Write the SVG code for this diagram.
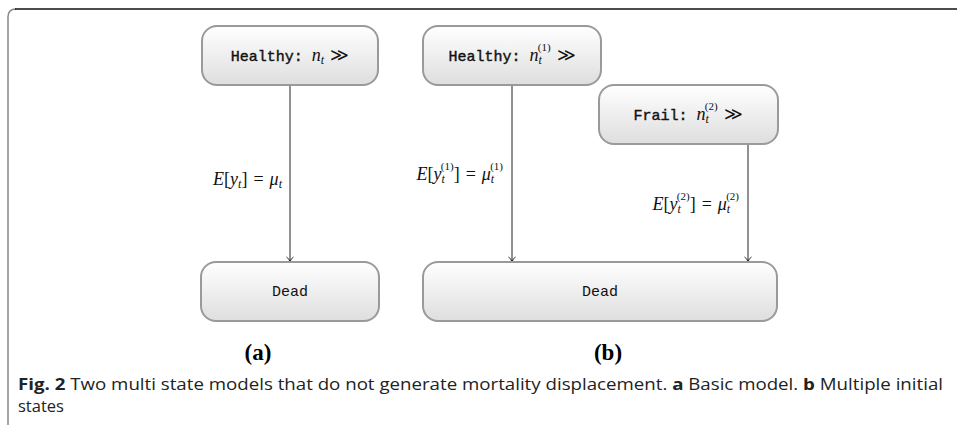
<svg xmlns="http://www.w3.org/2000/svg" width="957" height="425" viewBox="0 0 957 425">
<defs>
<linearGradient id="g" x1="0" y1="0" x2="0" y2="1">
<stop offset="0" stop-color="#ffffff"/>
<stop offset="1" stop-color="#dedede"/>
</linearGradient>
<marker id="arr" markerWidth="10" markerHeight="10" refX="8" refY="5" orient="auto" markerUnits="userSpaceOnUse">
<path d="M3,1.5 Q5,4.5 8,5 Q5,5.5 3,8.5" fill="none" stroke="#222" stroke-width="1"/>
</marker>
</defs>
<style>
.node{fill:url(#g);stroke:#9a9a9a;stroke-width:2}
.mono{font-family:"Liberation Mono","DejaVu Sans Mono",monospace;font-size:15px;fill:#111}
.monob{font-family:"Liberation Mono","DejaVu Sans Mono",monospace;font-size:15px;fill:#111;stroke:#111;stroke-width:0.4}
.math{font-family:"Liberation Serif","DejaVu Serif",serif;font-size:18px;fill:#111}
.it{font-style:italic}
.conn{stroke:#222;stroke-width:1;fill:none;marker-end:url(#arr)}
.sub{font-size:12px}
.sup{font-size:11px}
.panel{font-family:"Liberation Serif",serif;font-weight:bold;font-size:23px;fill:#000}
.cap{font-family:"Open Sans","Noto Sans",sans-serif;font-size:16.5px;fill:#222}
</style>
<path d="M8,425 L8,17 Q8,9 16,9" fill="none" stroke="#888" stroke-width="1.5"/>
<path d="M15,9 L957,9" fill="none" stroke="#111" stroke-width="1.3"/>

<g id="connectors">
<path class="conn" d="M290,85 L290,262"/>
<path class="conn" d="M512,85 L512,262"/>
<path class="conn" d="M748,144 L748,262"/>
<text class="math" x="282" y="185" text-anchor="end"><tspan class="it">E</tspan>[<tspan class="it">y</tspan><tspan class="it sub" dy="3">t</tspan><tspan dy="-3">]</tspan><tspan dx="6">=</tspan><tspan class="it" dx="6">μ</tspan><tspan class="it sub" dy="3">t</tspan></text>
<text class="math" x="503" y="180" text-anchor="end"><tspan class="it">E</tspan>[<tspan class="it">y</tspan><tspan class="it sub" dy="3">t</tspan><tspan class="sup" dx="-4" dy="-13.5">(1)</tspan><tspan dy="10.5">]</tspan><tspan dx="6">=</tspan><tspan class="it" dx="6">μ</tspan><tspan class="it sub" dy="3">t</tspan><tspan class="sup" dx="-4" dy="-13.5">(1)</tspan></text>
<text class="math" x="739" y="210" text-anchor="end"><tspan class="it">E</tspan>[<tspan class="it">y</tspan><tspan class="it sub" dy="3">t</tspan><tspan class="sup" dx="-4" dy="-13.5">(2)</tspan><tspan dy="10.5">]</tspan><tspan dx="6">=</tspan><tspan class="it" dx="6">μ</tspan><tspan class="it sub" dy="3">t</tspan><tspan class="sup" dx="-4" dy="-13.5">(2)</tspan></text>
</g>

<g id="healthy-a">
<rect class="node" x="202" y="26" width="176" height="59" rx="15"/>
<text x="290" y="61" text-anchor="middle"><tspan class="monob">Healthy:</tspan><tspan class="math it" dx="9">n</tspan><tspan class="math it sub" dy="3">t</tspan><tspan class="math" dx="6" dy="-3">≫</tspan></text>
</g>

<g id="dead-a">
<rect class="node" x="201" y="262" width="178" height="59" rx="15"/>
<text class="mono" x="290" y="296" text-anchor="middle">Dead</text>
</g>

<g id="healthy-b">
<rect class="node" x="423" y="26" width="178" height="59" rx="15"/>
<text x="512" y="61" text-anchor="middle"><tspan class="monob">Healthy:</tspan><tspan class="math it" dx="9">n</tspan><tspan class="math it sub" dy="3">t</tspan><tspan class="math sup" dx="-4" dy="-13.5">(1)</tspan><tspan class="math" dx="6" dy="10.5">≫</tspan></text>
</g>

<g id="frail-b">
<rect class="node" x="599" y="85" width="179" height="59" rx="15"/>
<text x="688" y="120" text-anchor="middle"><tspan class="monob">Frail:</tspan><tspan class="math it" dx="9">n</tspan><tspan class="math it sub" dy="3">t</tspan><tspan class="math sup" dx="-4" dy="-13.5">(2)</tspan><tspan class="math" dx="6" dy="10.5">≫</tspan></text>
</g>

<g id="dead-b">
<rect class="node" x="423" y="262" width="354" height="59" rx="15"/>
<text class="mono" x="600" y="296" text-anchor="middle">Dead</text>
</g>

<text class="panel" x="258" y="360" text-anchor="middle">(a)</text>
<text class="panel" x="608" y="360" text-anchor="middle">(b)</text>

<text class="cap" x="18" y="390" textLength="925" lengthAdjust="spacingAndGlyphs"><tspan font-weight="bold">Fig. 2</tspan>  Two multi state models that do not generate mortality displacement. <tspan font-weight="bold">a</tspan> Basic model. <tspan font-weight="bold">b</tspan> Multiple initial</text>
<text class="cap" x="18" y="412" textLength="46" lengthAdjust="spacingAndGlyphs">states</text>
</svg>
